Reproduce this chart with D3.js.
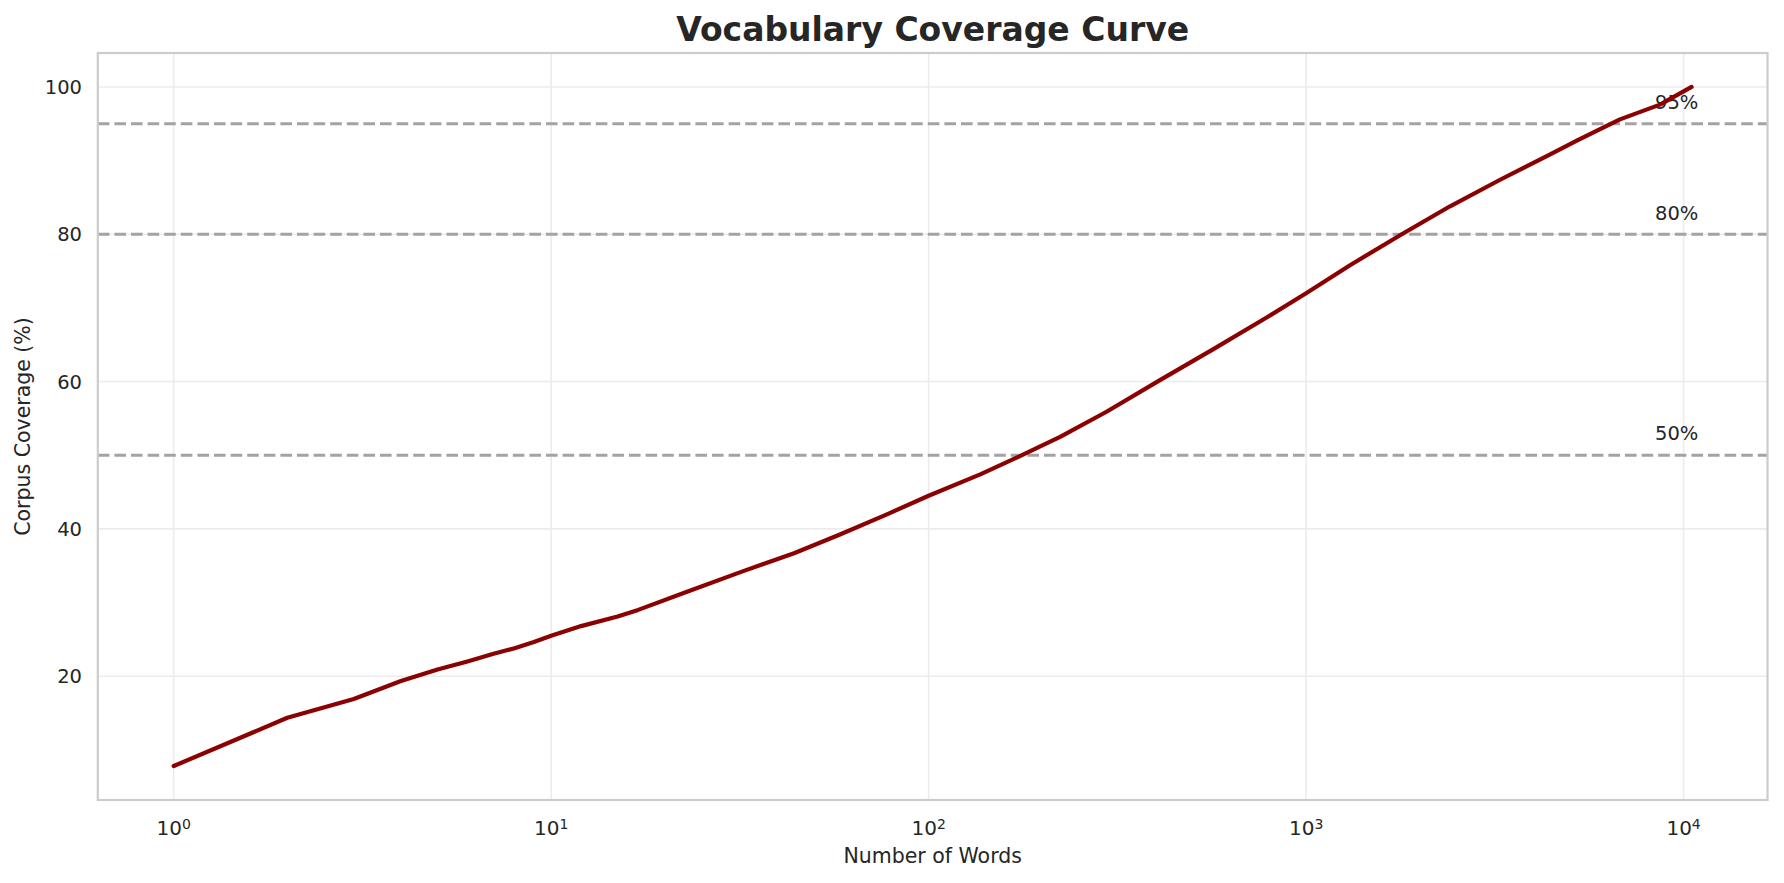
<!DOCTYPE html>
<html><head><meta charset="utf-8">
<script src="https://cdn.jsdelivr.net/npm/d3@7"></script>
<style>
html,body{margin:0;padding:0;background:#fff;}
text{font-family:"DejaVu Sans",sans-serif;fill:#262626;}
</style></head>
<body>
<svg id="chart" width="1784" height="883"></svg>
<script>
// Data
const words    = [1, 2, 3, 4, 5, 6, 7, 8, 9, 10, 12, 15, 17, 23, 32, 44, 58, 77, 100, 137, 175, 223, 296, 410, 568, 786, 1000, 1307, 1792, 2406, 3265, 4340, 5213, 6782, 8658, 10500];
const coverage = [7.8, 14.35, 16.9, 19.35, 20.9, 22.0, 23.0, 23.8, 24.65, 25.5, 26.8, 28.1, 29.0, 31.5, 34.2, 36.7, 39.2, 41.9, 44.5, 47.4, 49.9, 52.5, 55.9, 60.2, 64.4, 68.7, 72.0, 75.8, 80.0, 83.8, 87.4, 90.6, 92.7, 95.6, 97.6, 100];
const thresholds = [50, 80, 95];
const thresholdLabels = ["50%", "80%", "95%"];
const xTicks = [1, 10, 100, 1000, 10000];
const xTickExponents = ["0", "1", "2", "3", "4"];
const yTicks = [20, 40, 60, 80, 100];
const title = "Vocabulary Coverage Curve";
const xLabel = "Number of Words";
const yLabel = "Corpus Coverage (%)";

const data = words.map((w, i) => ({x: w, y: coverage[i]}));

const svg = d3.select("#chart");
const L = 97.8, R = 1767.5, T = 53, B = 800;

// matplotlib-like 5% margins (log space for x)
const lx0 = Math.log10(d3.min(words)), lx1 = Math.log10(d3.max(words));
const mx = (lx1 - lx0) * 0.05;
const x = d3.scaleLog().domain([Math.pow(10, lx0 - mx), Math.pow(10, lx1 + mx)]).range([L, R]);
const y0 = d3.min(coverage), y1 = d3.max(coverage), my = (y1 - y0) * 0.05;
const y = d3.scaleLinear().domain([y0 - my, y1 + my]).range([B, T]);

// grid
const g = svg.append("g");
g.selectAll("line.vg").data(xTicks).enter().append("line")
  .attr("x1", d => x(d)).attr("x2", d => x(d)).attr("y1", T).attr("y2", B)
  .attr("stroke", "#ececec").attr("stroke-width", 1.6);
g.selectAll("line.hg").data(yTicks).enter().append("line")
  .attr("x1", L).attr("x2", R).attr("y1", d => y(d)).attr("y2", d => y(d))
  .attr("stroke", "#ececec").attr("stroke-width", 1.6);

// threshold lines
svg.selectAll("line.th").data(thresholds).enter().append("line")
  .attr("x1", L).attr("x2", R).attr("y1", d => y(d)).attr("y2", d => y(d))
  .attr("stroke", "#a3a3a3").attr("stroke-width", 3.1)
  .attr("stroke-dasharray", "11.6,5");

// threshold labels
svg.selectAll("text.th").data(thresholds).enter().append("text")
  .attr("x", x(d3.max(words) * 0.8)).attr("y", d => y(d + 2))
  .attr("font-size", "19.5px")
  .text((d, i) => thresholdLabels[i]);

// main line
const line = d3.line().x(d => x(d.x)).y(d => y(d.y));
svg.append("path").datum(data).attr("d", line)
  .attr("fill", "none").attr("stroke", "#8b0000").attr("stroke-width", 4.2)
  .attr("stroke-linejoin", "round").attr("stroke-linecap", "round");

// spines
svg.append("rect").attr("x", L).attr("y", T).attr("width", R - L).attr("height", B - T)
  .attr("fill", "none").attr("stroke", "#cccccc").attr("stroke-width", 2.2);

// x tick labels
const xt = svg.selectAll("text.xt").data(xTicks).enter().append("text")
  .attr("x", d => x(d)).attr("y", 835).attr("text-anchor", "middle").attr("font-size", "20px");
xt.append("tspan").text("10");
xt.append("tspan").attr("dy", "-0.45em").attr("font-size", "14px").text((d, i) => xTickExponents[i]);

// y tick labels
svg.selectAll("text.yt").data(yTicks).enter().append("text")
  .attr("x", 82).attr("y", d => y(d)).attr("dy", "0.36em").attr("text-anchor", "end")
  .attr("font-size", "19.5px").text(d => d);

// axis labels
svg.append("text").attr("x", (L + R) / 2).attr("y", 863).attr("text-anchor", "middle")
  .attr("font-size", "20.5px").text(xLabel);
svg.append("text").attr("transform", `translate(30,${(T + B) / 2}) rotate(-90)`)
  .attr("text-anchor", "middle").attr("font-size", "20.5px").text(yLabel);

// title
svg.append("text").attr("x", (L + R) / 2).attr("y", 41).attr("text-anchor", "middle")
  .attr("font-size", "33px").attr("font-weight", "bold").text(title);
</script>
</body></html>
